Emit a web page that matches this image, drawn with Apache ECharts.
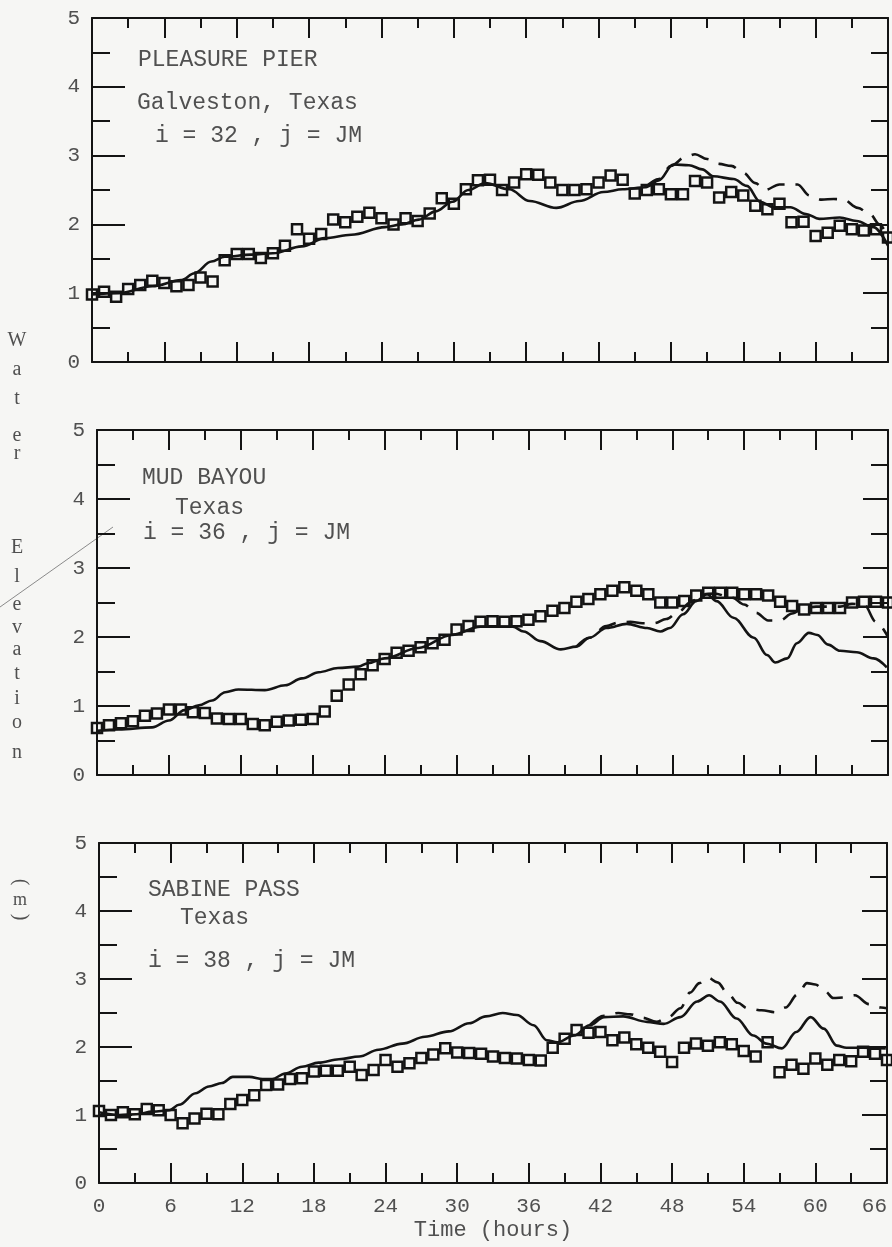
<!DOCTYPE html>
<html>
<head>
<meta charset="utf-8">
<title>Water Elevation</title>
<script src="https://cdn.jsdelivr.net/npm/echarts@6/dist/echarts.min.js"></script>
<style>
  html, body { margin: 0; padding: 0; background: #f6f6f4; }
  #chart { width: 892px; height: 1247px; }
</style>
</head>
<body>
<div id="chart"></div>
<script>
// axis ticks
const timeTicks = [0, 6, 12, 18, 24, 30, 36, 42, 48, 54, 60, 66]
const elevTicks = [0, 1, 2, 3, 4, 5]

// hourly observed water levels (squares)
const hours = [0, 1, 2, 3, 4, 5, 6, 7, 8, 9, 10, 11, 12, 13, 14, 15, 16, 17, 18, 19, 20,
  21, 22, 23, 24, 25, 26, 27, 28, 29, 30, 31, 32, 33, 34, 35, 36, 37, 38, 39, 40,
  41, 42, 43, 44, 45, 46, 47, 48, 49, 50, 51, 52, 53, 54, 55, 56, 57, 58, 59, 60,
  61, 62, 63, 64, 65, 66]

const pierObs = [0.98, 1.02, 0.95, 1.06, 1.12, 1.18, 1.15, 1.10, 1.12, 1.23, 1.17,
  1.48, 1.57, 1.57, 1.51, 1.58, 1.69, 1.93, 1.79, 1.86, 2.07,
  2.03, 2.11, 2.17, 2.09, 2.00, 2.09, 2.05, 2.16, 2.38, 2.30,
  2.51, 2.64, 2.65, 2.50, 2.61, 2.73, 2.72, 2.61, 2.50, 2.50,
  2.51, 2.61, 2.71, 2.65, 2.45, 2.50, 2.51, 2.44, 2.44, 2.63,
  2.61, 2.39, 2.47, 2.42, 2.27, 2.22, 2.30, 2.03, 2.04, 1.83,
  1.88, 1.98, 1.93, 1.91, 1.93, 1.81]

const bayouObs = [0.68, 0.72, 0.75, 0.78, 0.86, 0.89, 0.95, 0.95, 0.91, 0.90,
  0.82, 0.81, 0.81, 0.74, 0.72, 0.77, 0.79, 0.80, 0.81, 0.92,
  1.15, 1.31, 1.46, 1.59, 1.68, 1.77, 1.80, 1.85, 1.91, 1.96,
  2.11, 2.16, 2.22, 2.23, 2.22, 2.23, 2.25, 2.30, 2.38, 2.42,
  2.51, 2.55, 2.62, 2.67, 2.72, 2.67, 2.62, 2.50, 2.50, 2.52,
  2.60, 2.64, 2.64, 2.64, 2.62, 2.62, 2.60, 2.51, 2.45, 2.40,
  2.42, 2.42, 2.42, 2.50, 2.51, 2.51, 2.50]

const sabineObs = [1.06, 1.00, 1.04, 1.01, 1.09, 1.07, 1.00, 0.88, 0.95, 1.02,
  1.01, 1.16, 1.22, 1.29, 1.44, 1.45, 1.53, 1.54, 1.64, 1.65,
  1.65, 1.71, 1.59, 1.66, 1.81, 1.71, 1.76, 1.84, 1.89, 1.98,
  1.92, 1.91, 1.90, 1.86, 1.84, 1.83, 1.81, 1.80, 1.99, 2.12,
  2.25, 2.21, 2.22, 2.10, 2.14, 2.04, 1.99, 1.93, 1.78, 1.99,
  2.05, 2.02, 2.07, 2.04, 1.94, 1.86, 2.07, 1.63, 1.74, 1.68,
  1.83, 1.74, 1.81, 1.79, 1.93, 1.90, 1.81]

// computed levels, solid curve (hour / metres)
const pierSolidT = [0, 2.2, 5, 7.4, 8.5, 9.9, 11, 13.2, 15, 17.4, 19.3, 21.5, 24.3, 25.7, 27.1, 28.5,
  29.9, 31.2, 32.6, 34.6, 36.3, 38.5, 40.4, 42.4, 44, 45.9, 47, 48.2, 49.5, 50.6, 51.5, 53.2,
  54.3, 55.4, 56.5, 57.9, 59.2, 60.3, 62, 63.4, 64.8, 66]
const pierSolidV = [0.98, 1.0, 1.1, 1.19, 1.29, 1.46, 1.53, 1.56, 1.58, 1.68, 1.8, 1.85, 1.96, 2.0, 2.07, 2.19,
  2.33, 2.5, 2.6, 2.51, 2.34, 2.24, 2.34, 2.47, 2.51, 2.54, 2.64, 2.87, 2.86, 2.8, 2.7, 2.66,
  2.56, 2.33, 2.25, 2.25, 2.15, 2.08, 2.1, 2.05, 1.96, 1.69]

// computed levels, dashed curve (drawn where it leaves the solid one)
const pierDashT = [45.9, 47, 48, 49.2, 50, 51, 52, 53, 54, 55, 55.8, 57, 58.5, 59.5, 60.5, 61.5,
  62.3, 63.5, 64.5, 65.3, 66]
const pierDashV = [2.54, 2.66, 2.85, 2.98, 3.02, 2.95, 2.88, 2.85, 2.75, 2.6, 2.5, 2.58, 2.58, 2.42, 2.36, 2.37,
  2.36, 2.24, 2.15, 2.0, 1.8]

const bayouSolidT = [0, 1.8, 4.6, 6, 7.3, 8.5, 9.6, 10.7, 11.8, 14, 15.7, 17.1, 18.5, 20.1, 21.8, 22.6,
  24, 26.8, 29.6, 32, 34.7, 35.6, 37, 38.7, 40, 41.1, 42.5, 44.2, 45.9, 47, 47.8, 48.9,
  50, 50.9, 51.7, 53.1, 54.8, 55.9, 56.6, 57.6, 58.4, 59.4, 60.1, 61, 62, 63.4, 64.8, 65.9]
const bayouSolidV = [0.64, 0.66, 0.69, 0.79, 0.94, 1.01, 1.08, 1.2, 1.24, 1.23, 1.3, 1.4, 1.49, 1.55, 1.57, 1.62,
  1.69, 1.84, 2.03, 2.15, 2.15, 2.08, 1.94, 1.82, 1.86, 1.99, 2.13, 2.19, 2.13, 2.08, 2.13, 2.33,
  2.52, 2.62, 2.52, 2.28, 1.99, 1.74, 1.63, 1.69, 1.91, 2.06, 2.03, 1.89, 1.8, 1.78, 1.69, 1.56]

const bayouDashT = [40, 41.1, 42.5, 43.5, 44.5, 45.5, 46.5, 47.5, 48.5, 49.5, 50.5, 51.5, 53, 54, 55, 56,
  57, 58, 59, 60, 62, 63, 64, 65, 66]
const bayouDashV = [1.86, 1.99, 2.16, 2.21, 2.22, 2.2, 2.2, 2.26, 2.36, 2.5, 2.62, 2.63, 2.57, 2.47, 2.35, 2.24,
  2.24, 2.34, 2.42, 2.44, 2.44, 2.48, 2.47, 2.22, 2.0]

const sabineSolidT = [0, 1.7, 3.1, 4.5, 5.9, 6.7, 8.1, 9.2, 10.3, 11.2, 12.6, 13.7, 14.5, 15.6, 17, 18.4,
  20.1, 21.8, 23.4, 25.4, 27.3, 29.3, 31, 32.4, 33.8, 35, 36.4, 37.5, 38.4, 39.8, 41.1, 42.3,
  43.9, 45.9, 47.3, 48.7, 50.1, 51.1, 52, 53.4, 54.8, 55.9, 57.2, 58.4, 59.6, 60.7, 61.8, 62.6,
  64, 65.9]
const sabineSolidV = [1.04, 1.0, 1.01, 1.05, 1.07, 1.15, 1.32, 1.42, 1.47, 1.56, 1.56, 1.53, 1.53, 1.61, 1.71, 1.77,
  1.82, 1.86, 1.96, 2.05, 2.15, 2.23, 2.35, 2.45, 2.5, 2.47, 2.32, 2.1, 2.07, 2.17, 2.32, 2.44,
  2.45, 2.37, 2.34, 2.44, 2.67, 2.76, 2.67, 2.42, 2.17, 2.05, 1.98, 2.22, 2.44, 2.27, 2.02, 1.99,
  1.99, 1.98]

const sabineDashT = [41.1, 42.3, 43.5, 44.5, 45.5, 46.7, 47.7, 48.7, 49.5, 50.3, 51, 51.8, 52.7, 53.5, 54.3, 55.5,
  56.7, 57.5, 58.5, 59.3, 60, 60.8, 61.5, 62.5, 63.3, 64.5, 65.5, 66]
const sabineDashV = [2.32, 2.46, 2.5, 2.48, 2.43, 2.37, 2.44, 2.57, 2.8, 2.94, 3.02, 2.95, 2.78, 2.65, 2.57, 2.54,
  2.51, 2.58, 2.77, 2.94, 2.92, 2.82, 2.72, 2.73, 2.76, 2.63, 2.58, 2.57]

const ink = '#141414'
const textGray = '#505050'
const mono = '"Liberation Mono", "DejaVu Sans Mono", monospace'
const serif = '"Liberation Serif", "DejaVu Serif", serif'

const panels = [
  { title: ['PLEASURE PIER', 'Galveston, Texas', 'i = 32 , j = JM'],
    titlePos: [[138, 48], [137, 91], [155, 124]],
    obs: pierObs, solid: [pierSolidT, pierSolidV], dash: [pierDashT, pierDashV],
    left: 92, top: 18, width: 796, height: 344 },
  { title: ['MUD BAYOU', 'Texas', 'i = 36 , j = JM'],
    titlePos: [[142, 466], [175, 496], [143, 521]],
    obs: bayouObs, solid: [bayouSolidT, bayouSolidV], dash: [bayouDashT, bayouDashV],
    left: 97, top: 430, width: 791, height: 345 },
  { title: ['SABINE PASS', 'Texas', 'i = 38 , j = JM'],
    titlePos: [[148, 878], [180, 906], [148, 949]],
    obs: sabineObs, solid: [sabineSolidT, sabineSolidV], dash: [sabineDashT, sabineDashV],
    left: 99, top: 843, width: 788, height: 340 }
]

const pairs = (t, v) => t.map((x, k) => [x, v[k]])

const tickLine = { color: ink, width: 2 }

const makeX = (i, pos, withLabels) => ({
  gridIndex: i,
  type: 'value',
  position: pos,
  min: timeTicks[0],
  max: timeTicks[timeTicks.length - 1],
  interval: timeTicks[1] - timeTicks[0],
  axisLine: { show: true, onZero: false, lineStyle: tickLine },
  axisTick: { show: true, inside: true, length: 20, lineStyle: tickLine },
  minorTick: { show: true, splitNumber: 2, length: 10, lineStyle: tickLine },
  splitLine: { show: false },
  minorSplitLine: { show: false },
  axisLabel: {
    show: withLabels, margin: 13, color: textGray, fontFamily: mono, fontSize: 21,
    alignMaxLabel: 'right'
  },
  name: withLabels ? 'Time (hours)' : '',
  nameLocation: 'middle',
  nameGap: 36,
  nameTextStyle: { color: textGray, fontFamily: mono, fontSize: 22 }
})

const makeY = (i, pos, withLabels, longTick, shortTick) => ({
  gridIndex: i,
  type: 'value',
  position: pos,
  min: elevTicks[0],
  max: elevTicks[elevTicks.length - 1],
  interval: elevTicks[1] - elevTicks[0],
  axisLine: { show: true, onZero: false, lineStyle: tickLine },
  axisTick: { show: true, inside: true, length: longTick, lineStyle: tickLine },
  minorTick: { show: true, splitNumber: 2, length: shortTick, lineStyle: tickLine },
  splitLine: { show: false },
  minorSplitLine: { show: false },
  axisLabel: { show: withLabels, margin: 12, color: textGray, fontFamily: mono, fontSize: 21 }
})

const grid = []
const xAxis = []
const yAxis = []
const series = []
const graphic = []

panels.forEach((p, i) => {
  grid.push({ left: p.left, top: p.top, width: p.width, height: p.height,
    containLabel: false, outerBoundsMode: 'none' })
  xAxis.push(makeX(i, 'bottom', i === panels.length - 1))
  xAxis.push(makeX(i, 'top', false))
  yAxis.push(makeY(i, 'left', true, 33, 18))
  yAxis.push(makeY(i, 'right', false, 25, 17))

  series.push({
    type: 'line', xAxisIndex: 2 * i, yAxisIndex: 2 * i,
    data: pairs(p.solid[0], p.solid[1]),
    showSymbol: false, smooth: 0.35, smoothMonotone: 'x',
    lineStyle: { color: ink, width: 2.6 }, z: 2
  })
  series.push({
    type: 'line', xAxisIndex: 2 * i, yAxisIndex: 2 * i,
    data: pairs(p.dash[0], p.dash[1]),
    showSymbol: false, smooth: 0.35, smoothMonotone: 'x',
    lineStyle: { color: ink, width: 2.6, type: [18, 11] }, z: 2
  })
  series.push({
    type: 'scatter', xAxisIndex: 2 * i, yAxisIndex: 2 * i,
    data: pairs(hours, p.obs),
    symbol: 'rect', symbolSize: 10,
    itemStyle: { color: 'rgba(0,0,0,0)', borderColor: ink, borderWidth: 2.5, opacity: 1 },
    z: 3
  })

  p.title.forEach((t, k) => {
    graphic.push({
      type: 'text', left: p.titlePos[k][0], top: p.titlePos[k][1],
      style: { text: t, font: '23px ' + mono, fill: textGray }
    })
  })
})

// vertical axis title, one letter per line (letter, centre y)
const titleLetters = [['W', 341], ['a', 370], ['t', 399], ['e', 436], ['r', 454],
  ['E', 548], ['l', 577], ['e', 605], ['v', 628], ['a', 650], ['t', 674], ['i', 699],
  ['o', 723], ['n', 753]]
titleLetters.forEach(([ch, y]) => {
  graphic.push({
    type: 'text', x: 17, y: y,
    style: { text: ch, font: '20px ' + serif, fill: textGray, align: 'center', verticalAlign: 'middle' }
  })
})
graphic.push({
  type: 'text', x: 20, y: 882, rotation: -Math.PI / 2,
  style: { text: '(', font: '20px ' + serif, fill: textGray, align: 'center', verticalAlign: 'middle' }
})
graphic.push({
  type: 'text', x: 20, y: 900,
  style: { text: 'm', font: '18px ' + serif, fill: textGray, align: 'center', verticalAlign: 'middle' }
})
graphic.push({
  type: 'text', x: 20, y: 917, rotation: -Math.PI / 2,
  style: { text: ')', font: '20px ' + serif, fill: textGray, align: 'center', verticalAlign: 'middle' }
})
// stray pen stroke on the scanned page
graphic.push({
  type: 'line', shape: { x1: 0, y1: 607, x2: 113, y2: 527 },
  style: { stroke: '#8a8a8a', lineWidth: 1 }
})

const chart = echarts.init(document.getElementById('chart'))
chart.setOption({
  backgroundColor: '#f6f6f4',
  animation: false,
  grid,
  xAxis,
  yAxis,
  series,
  graphic
})
window.addEventListener('resize', () => chart.resize())
</script>
</body>
</html>
